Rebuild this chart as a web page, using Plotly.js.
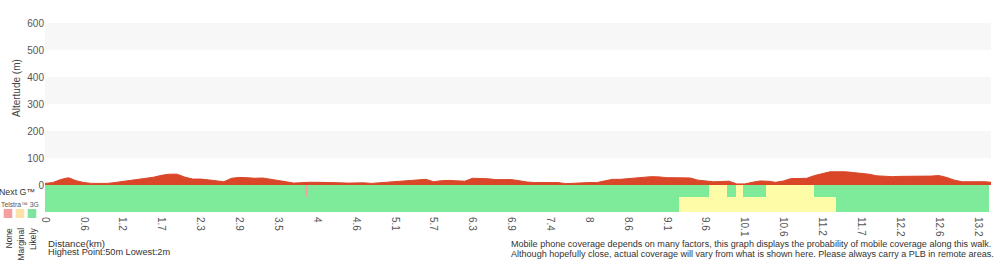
<!DOCTYPE html>
<html>
<head>
<meta charset="utf-8">
<script src="https://cdn.plot.ly/plotly-3.0.1.min.js"></script>
<style>html,body{margin:0;padding:0;background:#fff}#chart{width:1000px;height:260px}</style>
</head>
<body>
<div id="chart"></div>
<script>
// ---- data ----
const distanceLabels = ["0","0.6","1.2","1.7","2.3","2.9","3.5","4","4.6","5.1","5.7","6.3","6.9","7.4","8","8.6","9.1","9.6","10.1","10.6","11.2","11.7","12.2","12.6","13.2"];
const samplesPerLabel = 5;
const elevation = [
  6, 9, 20, 27, 16, 9, 6, 6, 6, 9,
  13, 18, 22, 25, 29, 36, 40, 40, 29, 22,
  22, 19, 15, 12, 25, 28, 27, 25, 26, 22,
  17, 12, 7, 9, 10, 10, 10, 10, 8, 7,
  8, 8, 6, 8, 10, 12, 14, 16, 20, 21,
  12, 16, 17, 16, 14, 25, 25, 23, 20, 20,
  20, 16, 11, 9, 9, 9, 9, 5, 7, 9,
  9, 9, 14, 21, 21, 23, 25, 29, 31, 30,
  27, 27, 27, 26, 18, 14, 12, 13, 14, 4,
  4, 10, 15, 14, 10, 15, 24, 24, 25, 35,
  42, 49, 49, 49, 46, 43, 40, 34, 32, 31,
  32, 32, 32, 32, 33, 35, 28, 18, 12, 12,
  12, 12, 9
];
// coverage segments, in sample units
const nextGStart = [0, 33.5, 33.8, 85.4, 87.8, 88.9, 89.8, 92.7, 98.9];
const nextGEnd   = [33.5, 33.8, 85.4, 87.8, 88.9, 89.8, 92.7, 98.9, 121.5];
const nextGLevel = ["Likely","None","Likely","Marginal","Likely","Marginal","Likely","Marginal","Likely"];
const g3Start = [0, 81.5, 101.8];
const g3End   = [81.5, 101.8, 121.5];
const g3Level = ["Likely","Marginal","Likely"];
const legendLevels = ["None","Marginal","Likely"];

// ---- styles ----
const FONT = "Liberation Sans, Arial, Helvetica, sans-serif";
const ELEV_COLOR = "#d94628";
const LEVEL_COLOR = {None: "#f4a3a3", Marginal: "#fffca8", Likely: "#7deb99"};
const LEGEND_COLOR = {None: "#f5a0a0", Marginal: "#fde2a8", Likely: "#80e3a0"};
const L = 45, T = 23, W = 946, H = 189;
const px = x => (x - L) / W;
const py = y => (T + H - y) / H;

const xIdx = elevation.map((_, i) => i);
const tickvals = distanceLabels.map((_, i) => i * samplesPerLabel);

function rowTrace(starts, ends, levels, base, height) {
  return {
    type: "bar",
    x: starts.map((s, i) => (s + ends[i]) / 2),
    width: starts.map((s, i) => ends[i] - s),
    y: starts.map(() => height),
    base: starts.map(() => base),
    marker: {color: levels.map(l => LEVEL_COLOR[l]), line: {width: 0}},
    hoverinfo: "skip",
    showlegend: false
  };
}

const traces = [
  rowTrace(nextGStart, nextGEnd, nextGLevel, -43, 43),
  rowTrace(g3Start, g3End, g3Level, -100, 57),
  {
    type: "scatter", mode: "lines", x: xIdx, y: elevation,
    fill: "tozeroy", fillcolor: ELEV_COLOR,
    line: {color: ELEV_COLOR, width: 1}, hoverinfo: "skip", showlegend: false
  }
];

const shapes = [];
[[100,200],[300,400],[500,600]].forEach(([a,b]) => shapes.push({
  type: "rect", xref: "paper", yref: "y", x0: 0, x1: 1, y0: a, y1: b,
  fillcolor: "#f7f7f7", line: {width: 0}, layer: "below"
}));
const legX = [8, 20, 32];
legendLevels.forEach((l, i) => shapes.push({
  type: "rect", xref: "paper", yref: "paper",
  x0: px(legX[i] - 4.3), x1: px(legX[i] + 4.3), y0: py(218), y1: py(209),
  fillcolor: LEGEND_COLOR[l], line: {width: 0}
}));

const ann = (text, x, y, opts) => Object.assign({
  text, xref: "paper", yref: "paper", x: px(x), y: py(y), showarrow: false,
  xanchor: "center", yanchor: "middle",
  font: {family: FONT, size: 10, color: "#333"}
}, opts || {});

const annotations = [
  ann("Altertude (m)", 16, 88, {textangle: -90, font: {family: FONT, size: 10, color: "#444"}}),
  ann("Next G™", 36.5, 191.5, {xanchor: "right", font: {family: FONT, size: 8.8, color: "#333"}}),
  ann("Telstra™ 3G", 20, 204.5, {font: {family: FONT, size: 6.8, color: "#555"}}),
  ann("Distance(km)", 45.5, 243.5, {xanchor: "left", font: {family: FONT, size: 9.7, color: "#333"}}),
  ann("Highest Point:50m Lowest:2m", 45.5, 252.5, {xanchor: "left", font: {family: FONT, size: 9.2, color: "#333"}}),
  ann("Mobile phone coverage depends on many factors, this graph displays the probability of mobile coverage along this walk.", 508.5, 244, {xanchor: "left", font: {family: FONT, size: 9.05, color: "#333"}}),
  ann("Although hopefully close, actual coverage will vary from what is shown here. Please always carry a PLB in remote areas.", 508.5, 254, {xanchor: "left", font: {family: FONT, size: 9.05, color: "#333"}})
];
legendLevels.forEach((l, i) => annotations.push(
  ann(l, legX[i] + 1, 226, {textangle: -90, xanchor: "center", yanchor: "top", font: {family: FONT, size: 8.5, color: "#333"}})
));

const layout = {
  width: 1000, height: 260,
  margin: {l: L, r: 1000 - L - W, t: T, b: 260 - T - H, pad: 0},
  paper_bgcolor: "#fff", plot_bgcolor: "#fff",
  barmode: "overlay", bargap: 0,
  showlegend: false,
  font: {family: FONT, size: 10, color: "#555"},
  xaxis: {
    range: [0, 121.7], tickvals: tickvals, ticktext: distanceLabels,
    tickangle: 90, showgrid: false, zeroline: false, showline: false, ticks: "",
    ticklabelstandoff: 4,
    tickfont: {family: FONT, size: 10, color: "#555"}, fixedrange: true
  },
  yaxis: {
    range: [-100, 600], tickvals: [0,100,200,300,400,500,600],
    showgrid: false, zeroline: false, showline: false, ticks: "",
    tickfont: {family: FONT, size: 10, color: "#555"}, fixedrange: true
  },
  shapes, annotations
};

Plotly.newPlot("chart", traces, layout, {staticPlot: true, displayModeBar: false});
</script>
</body>
</html>
